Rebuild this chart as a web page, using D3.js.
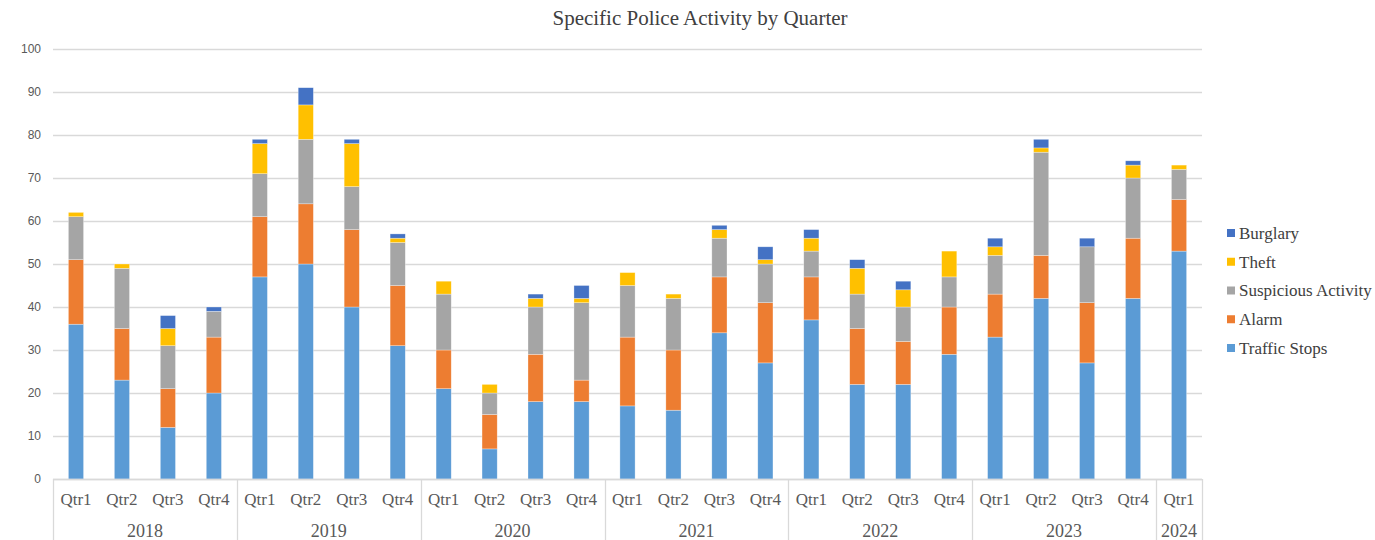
<!DOCTYPE html>
<html>
<head>
<meta charset="utf-8">
<script src="https://cdn.jsdelivr.net/npm/d3@7"></script>
<style>
  body { margin: 0; background: #fff; }
  svg { display: block; }
</style>
</head>
<body>
<div id="chart"></div>
<script>
// --------------------------------------------------------
// DATA
// --------------------------------------------------------
const years = ["2018", "2019", "2020", "2021", "2022", "2023", "2024"];
const quartersPerYear = [4, 4, 4, 4, 4, 4, 1];
const seriesNames = ["Traffic Stops", "Alarm", "Suspicious Activity", "Theft", "Burglary"];
const seriesColors = ["#5B9BD5", "#ED7D31", "#A5A5A5", "#FFC000", "#4472C4"];

const trafficStops = [36, 23, 12, 20, 47, 50, 40, 31, 21, 7, 18, 18, 17, 16, 34, 27, 37, 22, 22, 29, 33, 42, 27, 42, 53];
const alarm        = [15, 12, 9, 13, 14, 14, 18, 14, 9, 8, 11, 5, 16, 14, 13, 14, 10, 13, 10, 11, 10, 10, 14, 14, 12];
const suspicious   = [10, 14, 10, 6, 10, 15, 10, 10, 13, 5, 11, 18, 12, 12, 9, 9, 6, 8, 8, 7, 9, 24, 13, 14, 7];
const theft        = [1, 1, 4, 0, 7, 8, 10, 1, 3, 2, 2, 1, 3, 1, 2, 1, 3, 6, 4, 6, 2, 1, 0, 3, 1];
const burglary     = [0, 0, 3, 1, 1, 4, 1, 1, 0, 0, 1, 3, 0, 0, 1, 3, 2, 2, 2, 0, 2, 2, 2, 1, 0];

const yTicks = [0, 10, 20, 30, 40, 50, 60, 70, 80, 90, 100];

// --------------------------------------------------------
// LAYOUT
// --------------------------------------------------------
const width = 1375;
const height = 540;
const plotLeft = 53;
const plotRight = 1202;
const plotTop = 49;
const plotBottom = 479;
const serif = "'Liberation Serif', 'Times New Roman', serif";

// build rows from the arrays
const rows = [];
years.forEach((yr, yi) => {
  for (let q = 0; q < quartersPerYear[yi]; q++) {
    rows.push({ key: yr + "-Q" + (q + 1), year: yr, qtr: "Qtr" + (q + 1) });
  }
});
const seriesArrays = [trafficStops, alarm, suspicious, theft, burglary];
rows.forEach((r, i) => {
  seriesNames.forEach((s, si) => { r[s] = seriesArrays[si][i]; });
});

const svg = d3.select("#chart")
  .append("svg")
  .attr("width", width)
  .attr("height", height);

const x = d3.scaleBand()
  .domain(rows.map(d => d.key))
  .range([plotLeft, plotRight])
  .paddingInner(0.67)
  .paddingOuter(0.335);

const y = d3.scaleLinear()
  .domain([0, 100])
  .range([plotBottom, plotTop]);

// gridlines
svg.append("g")
  .selectAll("line")
  .data(yTicks)
  .join("line")
  .attr("x1", plotLeft)
  .attr("x2", plotRight)
  .attr("y1", d => Math.round(y(d)) + 0.5)
  .attr("y2", d => Math.round(y(d)) + 0.5)
  .attr("stroke", "#d9d9d9")
  .attr("stroke-width", 1.3);

// y tick labels
svg.append("g")
  .selectAll("text")
  .data(yTicks)
  .join("text")
  .attr("x", 41)
  .attr("y", d => y(d))
  .attr("dy", "0.35em")
  .attr("text-anchor", "end")
  .attr("font-family", "'Liberation Sans', Arial, sans-serif")
  .attr("font-size", 12)
  .attr("fill", "#595959")
  .text(d => d);

// stacked bars
const stack = d3.stack().keys(seriesNames);
const stacked = stack(rows);

svg.append("g")
  .selectAll("g")
  .data(stacked)
  .join("g")
  .attr("fill", (d, i) => seriesColors[i])
  .selectAll("rect")
  .data(d => d.filter(v => v[1] > v[0]))
  .join("rect")
  .attr("x", d => x(d.data.key))
  .attr("y", d => y(d[1]))
  .attr("width", x.bandwidth())
  .attr("height", d => y(d[0]) - y(d[1]))
  .attr("stroke", "#ffffff")
  .attr("stroke-opacity", 0.5)
  .attr("stroke-width", 0.6);

// category axis (two levels)
const axisG = svg.append("g");
axisG.append("line")
  .attr("x1", plotLeft).attr("x2", plotRight)
  .attr("y1", plotBottom + 0.5).attr("y2", plotBottom + 0.5)
  .attr("stroke", "#d9d9d9").attr("stroke-width", 1.3);

// year boundaries
const step = x.step();
let bounds = [plotLeft];
let acc = 0;
quartersPerYear.forEach(n => { acc += n; bounds.push(plotLeft + acc * step); });

axisG.selectAll("line.sep")
  .data(bounds)
  .join("line")
  .attr("class", "sep")
  .attr("x1", d => Math.round(d) + 0.5)
  .attr("x2", d => Math.round(d) + 0.5)
  .attr("y1", plotBottom)
  .attr("y2", height)
  .attr("stroke", "#d9d9d9")
  .attr("stroke-width", 1.3);

axisG.selectAll("text.qtr")
  .data(rows)
  .join("text")
  .attr("class", "qtr")
  .attr("x", d => x(d.key) + x.bandwidth() / 2)
  .attr("y", 505)
  .attr("text-anchor", "middle")
  .attr("font-family", serif)
  .attr("font-size", 17)
  .attr("fill", "#595959")
  .text(d => d.qtr);

axisG.selectAll("text.year")
  .data(years)
  .join("text")
  .attr("class", "year")
  .attr("x", (d, i) => (bounds[i] + bounds[i + 1]) / 2)
  .attr("y", 537)
  .attr("text-anchor", "middle")
  .attr("font-family", serif)
  .attr("font-size", 18)
  .attr("fill", "#595959")
  .text(d => d);

// title
svg.append("text")
  .attr("x", 700)
  .attr("y", 25)
  .attr("text-anchor", "middle")
  .attr("font-family", serif)
  .attr("font-size", 21)
  .attr("fill", "#404040")
  .text("Specific Police Activity by Quarter");

// legend (reverse order, Burglary on top)
const legendItems = seriesNames.map((s, i) => ({ name: s, color: seriesColors[i] })).reverse();
const legend = svg.append("g")
  .selectAll("g")
  .data(legendItems)
  .join("g")
  .attr("transform", (d, i) => `translate(1227, ${233 + i * 28.75})`);

legend.append("rect")
  .attr("x", 0).attr("y", -4)
  .attr("width", 8).attr("height", 8)
  .attr("fill", d => d.color);

legend.append("text")
  .attr("x", 12)
  .attr("y", 0)
  .attr("dy", "0.35em")
  .attr("font-family", serif)
  .attr("font-size", 17)
  .attr("fill", "#404040")
  .text(d => d.name);
</script>
</body>
</html>
